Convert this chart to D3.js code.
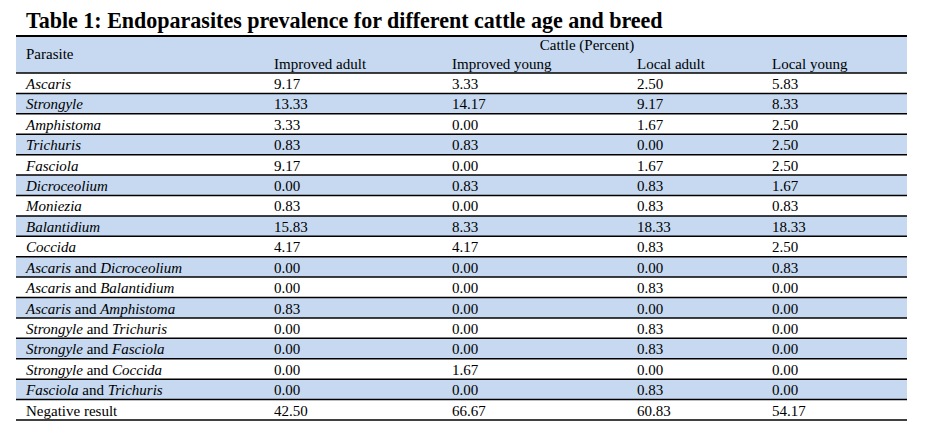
<!DOCTYPE html>
<html>
<style>
    body { margin: 0; background: #fff; }
    text { font-family: "Liberation Serif", "Times New Roman", serif; fill: #000; }
    .cell { font-size: 15px; }
    .title { font-size: 21px; font-weight: bold; }
</style>
<body>
<svg id="viz" width="927" height="437"></svg>
<script src="https://cdnjs.cloudflare.com/ajax/libs/d3/7.8.5/d3.min.js"></script>
<script>
    var title = 'Table 1: Endoparasites prevalence for different cattle age and breed';
    var groupLabel = 'Cattle (Percent)';
    var columns = ['Improved adult', 'Improved young', 'Local adult', 'Local young'];
    var parasites = ['Ascaris', 'Strongyle', 'Amphistoma', 'Trichuris', 'Fasciola', 'Dicroceolium',
        'Moniezia', 'Balantidium', 'Coccida', 'Ascaris and Dicroceolium', 'Ascaris and Balantidium',
        'Ascaris and Amphistoma', 'Strongyle and Trichuris', 'Strongyle and Fasciola',
        'Strongyle and Coccida', 'Fasciola and Trichuris', 'Negative result'];
    var improvedAdult = [9.17, 13.33, 3.33, 0.83, 9.17, 0.00, 0.83, 15.83, 4.17, 0.00, 0.00, 0.83, 0.00, 0.00, 0.00, 0.00, 42.50];
    var improvedYoung = [3.33, 14.17, 0.00, 0.83, 0.00, 0.83, 0.00, 8.33, 4.17, 0.00, 0.00, 0.00, 0.00, 0.00, 1.67, 0.00, 66.67];
    var localAdult    = [2.50, 9.17, 1.67, 0.00, 1.67, 0.83, 0.83, 18.33, 0.83, 0.00, 0.83, 0.00, 0.83, 0.83, 0.00, 0.83, 60.83];
    var localYoung    = [5.83, 8.33, 2.50, 2.50, 2.50, 1.67, 0.83, 18.33, 2.50, 0.83, 0.00, 0.00, 0.00, 0.00, 0.00, 0.00, 54.17];
    var series = [improvedAdult, improvedYoung, localAdult, localYoung];

    var left = 16, right = 907, headTop = 36, headBottom = 73, bottom = 420;
    var blue = '#c6d9f1';

    var svg = d3.select('#viz');

    var y = d3.scaleBand().domain(parasites).range([headBottom, bottom]);
    var x = d3.scaleOrdinal().domain(['Parasite'].concat(columns)).range([26, 274, 452, 637, 772]);

    // title, fitted to the width in the picture
    var t = svg.append('text').attr('class', 'title').attr('x', 26).attr('y', 28).text(title);
    var w = t.node().getComputedTextLength();
    t.style('font-size', (21 * 637 / w) + 'px');

    // header band + striped rows
    svg.append('rect').attr('x', left).attr('y', headTop)
        .attr('width', right - left).attr('height', headBottom - headTop).attr('fill', blue);

    svg.selectAll('rect.row')
        .data(parasites)
        .enter().append('rect')
        .attr('class', 'row')
        .attr('x', left)
        .attr('y', function(d) { return y(d); })
        .attr('width', right - left)
        .attr('height', y.bandwidth())
        .attr('fill', function(d, i) { return i % 2 === 1 ? blue : '#fff'; });

    // rules
    var rules = [headTop, headBottom].concat(parasites.map(function(d) { return y(d) + y.bandwidth(); }));
    svg.selectAll('line.rule')
        .data(rules)
        .enter().append('line')
        .attr('class', 'rule')
        .attr('x1', left).attr('x2', right)
        .attr('y1', function(d) { return d; }).attr('y2', function(d) { return d; })
        .attr('stroke', '#000')
        .attr('stroke-width', function(d, i) { return i === 0 ? 2 : 1.5; });

    // header text
    svg.append('text').attr('class', 'cell').attr('x', x('Parasite')).attr('y', 59).text('Parasite');
    svg.append('text').attr('class', 'cell').attr('x', 587).attr('y', 50)
        .attr('text-anchor', 'middle').text(groupLabel);
    svg.selectAll('text.colhead')
        .data(columns)
        .enter().append('text')
        .attr('class', 'cell colhead')
        .attr('x', function(d) { return x(d); })
        .attr('y', 69)
        .text(function(d) { return d; });

    // parasite names: genus names italic, "and" upright
    var names = svg.selectAll('text.name')
        .data(parasites)
        .enter().append('text')
        .attr('class', 'cell name')
        .attr('x', x('Parasite'))
        .attr('y', function(d) { return y(d) + 16; });

    names.each(function(d) {
        var el = d3.select(this);
        if (d === 'Negative result') { el.text(d); return; }
        var parts = d.split(' and ');
        parts.forEach(function(p, k) {
            if (k > 0) el.append('tspan').text(' and ');
            el.append('tspan').style('font-style', 'italic').text(p);
        });
    });

    // values
    columns.forEach(function(c, ci) {
        svg.selectAll('text.v' + ci)
            .data(series[ci])
            .enter().append('text')
            .attr('class', 'cell v' + ci)
            .attr('x', x(c))
            .attr('y', function(d, i) { return y(parasites[i]) + 16; })
            .text(function(d) { return d.toFixed(2); });
    });
</script>
</body>
</html>
